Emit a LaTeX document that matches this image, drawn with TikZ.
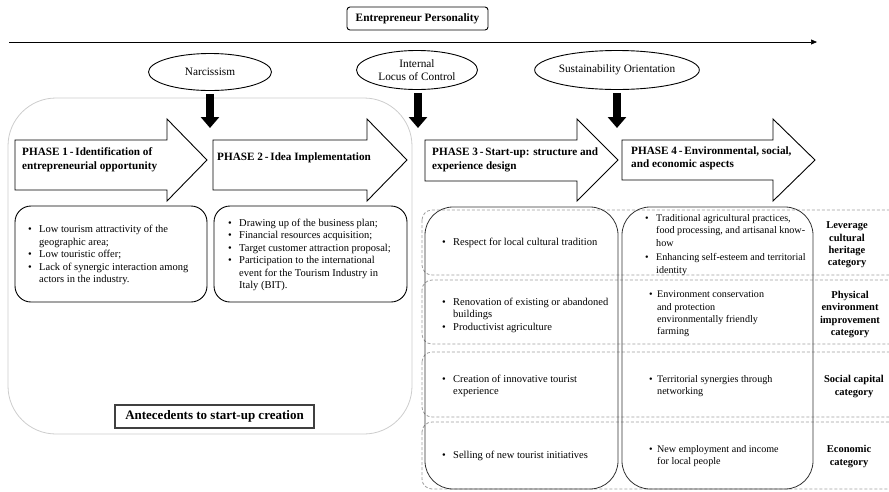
\documentclass[tikz,border=0pt]{standalone}
\usepackage{fontspec}
\setmainfont{Liberation Serif}
\usetikzlibrary{arrows.meta,shapes.geometric}
\newcommand\blt{\makebox[11pt][l]{\textbullet}}
\newcommand\bli{\hspace*{11pt}}
\newcommand\bltb{\makebox[8pt][l]{\textbullet}}
\newcommand\blib{\hspace*{8pt}}
\newcommand\phasearr[4]{% x0, xbase, xtip, ybottom of shaft
  \draw[phbody] (#1,140) -- (#2,140) -- (#2,119) -- (#3,160) -- (#2,201) -- (#2,#4) -- (#1,#4) -- cycle;}
\begin{document}
\begin{tikzpicture}[x=1pt,y=-1pt,
  phbody/.style={draw, line width=0.9pt, fill=white, line join=miter},
  phtxt/.style={font=\fontsize{11.2}{13.5}\selectfont\bfseries, align=left, anchor=west, inner sep=0pt},
  lst/.style={font=\fontsize{10.5}{12.5}\selectfont, align=left, anchor=west, inner sep=0pt},
  lstb/.style={font=\fontsize{10.1}{12.3}\selectfont, align=left, anchor=west, inner sep=0pt},
  cat/.style={font=\fontsize{10.5}{12.2}\selectfont\bfseries, align=center, inner sep=0pt},
  ell/.style={ellipse, draw, line width=0.9pt, inner sep=0pt, font=\fontsize{11.3}{13.5}\selectfont, align=center},
  rowbox/.style={draw=gray!75, dash pattern=on 3pt off 2pt, line width=0.8pt, rounded corners=10pt},
  colbox/.style={draw=black!80, line width=0.8pt, rounded corners=28pt},
  listbox/.style={draw, line width=0.9pt, rounded corners=16pt},
  thickdown/.style={line width=8pt, -{Triangle[length=11pt,width=18pt]}},
  timeline/.style={line width=0.7pt, -{Triangle[length=6pt,width=5pt]}}
]
\useasboundingbox (0,0) rectangle (889,491);

% top title and timeline
\node[draw, line width=0.9pt, rounded corners=3pt, minimum width=141pt, minimum height=23pt,
      font=\fontsize{11.3}{13}\selectfont\bfseries] (ep) at (417.5,18.5) {Entrepreneur Personality};
\coordinate (tl0) at (9,42);
\coordinate (tl1) at (817,42);
\draw[timeline] (tl0) -- (tl1);

% ellipses
\node[ell, minimum width=123pt, minimum height=37pt] (narc) at (210,72) {Narcissism};
\node[ell, minimum width=121pt, minimum height=39pt] (ilc) at (417,70) {Internal\\Locus of Control};
\node[ell, minimum width=131pt, minimum height=39pt] (sus) at (617,70) {Sustainability Orientation};

% antecedents big frame
\draw[draw=gray!40, line width=0.8pt, rounded corners=48pt] (8,98) rectangle (412,434);
\node[draw=black!75, line width=1.1pt, minimum width=199pt, minimum height=23pt,
      font=\fontsize{13}{15}\selectfont\bfseries] (ante) at (214.5,416.5) {Antecedents to start-up creation};

% row dashed boxes
\draw[rowbox] (422,210) rectangle (905,275);
\draw[rowbox] (422,280) rectangle (905,344);
\draw[rowbox] (422,352) rectangle (905,417);
\draw[rowbox] (422,422) rectangle (905,489);

% column boxes
\draw[colbox] (425,207) rectangle (618,489);
\draw[colbox] (622,207) rectangle (813,489);

% thick arrows
\coordinate (n1) at (210,128);
\coordinate (n2) at (418,128);
\coordinate (n3) at (617,128);
\draw[thickdown] ([yshift=-3pt]narc.south) -- (n1);
\draw[thickdown] ([xshift=1pt,yshift=-3pt]ilc.south) -- (n2);
\draw[thickdown] ([yshift=-3pt]sus.south) -- (n3);

% phase arrows
\phasearr{15}{167}{207}{190}
\phasearr{213}{367}{407}{190}
\phasearr{425}{577}{618}{181}
\phasearr{622}{773}{815}{180}
\node[phtxt] (p1) at (22,160) {PHASE 1\,-\,Identification of\\entrepreneurial opportunity};
\node[phtxt] (p2) at (217,158) {PHASE 2\,-\,Idea Implementation};
\node[phtxt] (p3) at (432,160) {PHASE 3\,-\,Start-up: structure and\\experience design};
\node[phtxt] (p4) at (631,158.5) {PHASE 4\,-\,Environmental, social,\\and economic aspects};

% phase 1 and 2 lists
\draw[listbox] (15,206) rectangle (207,302);
\draw[listbox] (214,206) rectangle (407,302);
\node[lst] (l1) at (28,255) {\blt Low tourism attractivity of the\\\bli geographic area;\\\blt Low touristic offer;\\\blt Lack of synergic interaction among\\\bli actors in the industry.};
\node[lst] (l2) at (228,255) {\blt Drawing up of the business plan;\\\blt Financial resources acquisition;\\\blt Target customer attraction proposal;\\\blt Participation to the international\\\bli event for the Tourism Industry in\\\bli Italy (BIT).};

% right rows
\node[lst] (r1a) at (442,243) {\blt Respect for local cultural tradition};
\node[lstb] (r1b) at (645,245) {\blt Traditional agricultural practices,\\\bli food processing, and artisanal know-\\\bli how\\[2.5pt]\blt Enhancing self-esteem and territorial\\\bli identity};
\node[cat] (c1) at (847,245) {Leverage\\cultural\\heritage\\category};

\node[lst] (r2a) at (442,315) {\blt Renovation of existing or abandoned\\\bli buildings\\\blt Productivist agriculture};
\node[lstb] (r2b) at (649,314) {\bltb Environment conservation\\\blib and protection\\\blib environmentally friendly\\\blib farming};
\node[cat] (c2) at (850,314.5) {Physical\\environment\\improvement\\category};

\node[lst] (r3a) at (442,386) {\blt Creation of innovative tourist\\\bli experience};
\node[lstb] (r3b) at (649,386) {\bltb Territorial synergies through\\\blib networking};
\node[cat] (c3) at (854,386.5) {Social capital\\category};

\node[lst] (r4a) at (442,456) {\blt Selling of new tourist initiatives};
\node[lstb] (r4b) at (649,456) {\bltb New employment and income\\\blib for local people};
\node[cat] (c4) at (849,456.5) {Economic\\category};
\end{tikzpicture}
\end{document}
